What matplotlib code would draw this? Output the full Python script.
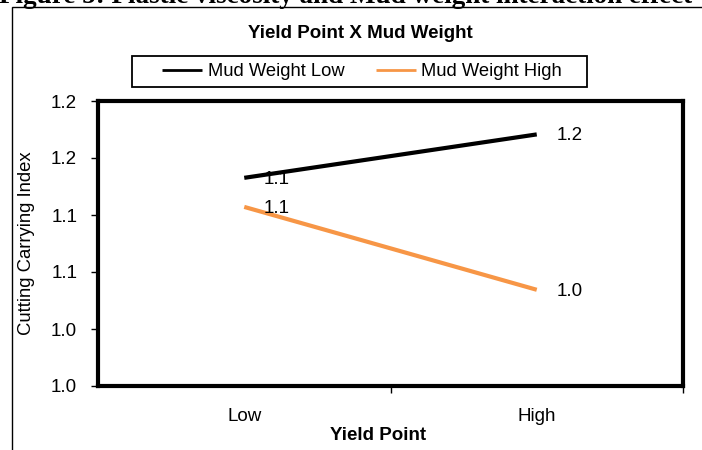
import matplotlib
matplotlib.use("Agg")
import matplotlib.pyplot as plt
from matplotlib.patches import Rectangle
from decimal import Decimal, ROUND_HALF_UP

categories = ["Low", "High"]
mud_weight_low = [1.1326, 1.1707]
mud_weight_high = [1.1071, 1.0344]
series_names = ["Mud Weight Low", "Mud Weight High"]
y_ticks = [0.95, 1.00, 1.05, 1.10, 1.15, 1.20]


def fmt1(v):
    return str(Decimal(repr(v)).quantize(Decimal("0.1"), rounding=ROUND_HALF_UP))


plt.rcParams['font.family'] = ['Liberation Sans', 'DejaVu Sans']

W, H = 702, 450
fig = plt.figure(figsize=(W / 100, H / 100), dpi=100)
ax = fig.add_axes([98 / W, 1 - 386 / H, (683 - 98) / W, (386 - 101) / H])

x = list(range(len(categories)))
colors = ["#000000", "#F79646"]
for vals, name, c in zip([mud_weight_low, mud_weight_high], series_names, colors):
    ax.plot(x, vals, color=c, lw=3, label=name, solid_capstyle='butt')
    for xi, v in zip(x, vals):
        ax.annotate(fmt1(v), (xi, v), xytext=(14, -1), textcoords='offset points',
                    ha='left', va='center', fontsize=13.5, color='black')

ax.set_xlim(-0.5, 1.5)
ax.set_ylim(0.95, 1.20)
ax.set_yticks(y_ticks)
ax.set_yticklabels([fmt1(t) for t in y_ticks], fontsize=13.5)
ax.set_xticks([0.5, 1.5])
ax.set_xticklabels([])
ax.set_xticks(x, minor=True)
ax.set_xticklabels(categories, minor=True, fontsize=13.5)
ax.tick_params(axis='x', which='minor', length=0, pad=16)
ax.tick_params(axis='x', which='major', length=5, width=1, direction='out')
ax.tick_params(axis='y', length=5, width=1, direction='out', pad=10)
for s in ax.spines.values():
    s.set_linewidth(3)
    s.set_color('black')

fig.text(27 / W, 1 - 243 / H, "Cutting Carrying Index", rotation=90, ha='center', va='center',
         fontsize=13.3)
fig.text(378 / W, 1 - 435 / H, "Yield Point", ha='center', va='center',
         fontsize=13.5, fontweight='bold')

fig.text(360 / W, 1 - 33 / H, "Yield Point X Mud Weight", ha='center', va='center',
         fontsize=13.5, fontweight='bold')

h, l = ax.get_legend_handles_labels()
leg = fig.legend(h, l, loc='center', bbox_to_anchor=(362 / W, 1 - 72 / H), ncol=2,
                 frameon=False, fontsize=13.2,
                 handlelength=2.2, columnspacing=1.7, handletextpad=0.3)
for line in leg.get_lines():
    line.set_linewidth(2)
fig.patches.append(Rectangle((132 / W, 1 - 87 / H), (587 - 132) / W, (87 - 56) / H,
                             transform=fig.transFigure, fill=False, edgecolor='black', lw=1.3))

# outer chart border
fig.patches.append(Rectangle((12 / W, -0.05), 1.0, 1 - 6.5 / H + 0.05, transform=fig.transFigure,
                             fill=False, edgecolor='black', lw=1))

# page caption, cut at top
fig.text(-0.002, 1 - 3 / H, "Figure 5: Plastic viscosity and Mud weight interaction effect",
         ha='left', va='baseline', fontsize=19.5, fontweight='bold',
         family=['Liberation Serif', 'DejaVu Serif'])

fig.savefig("out.png", dpi=100)
